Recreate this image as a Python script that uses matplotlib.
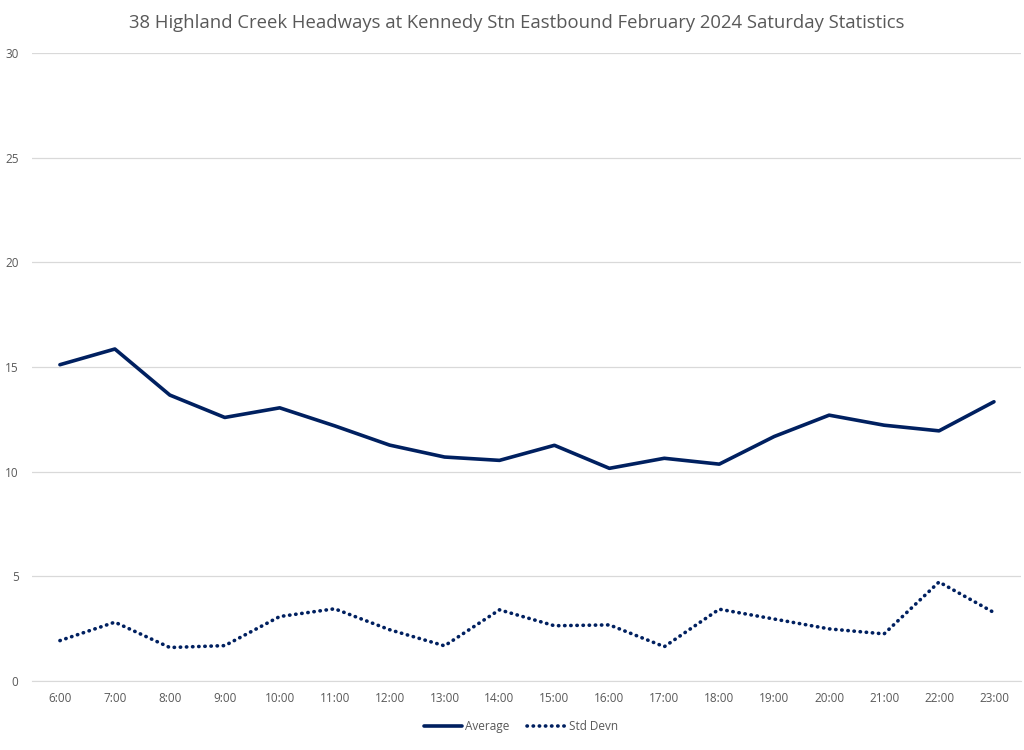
import matplotlib as mpl
mpl.use('Agg')
import matplotlib.pyplot as plt

hours = ["6:00", "7:00", "8:00", "9:00", "10:00", "11:00", "12:00", "13:00", "14:00",
         "15:00", "16:00", "17:00", "18:00", "19:00", "20:00", "21:00", "22:00", "23:00"]
average = [15.11, 15.86, 13.66, 12.59, 13.05, 12.19, 11.27, 10.70, 10.54,
           11.26, 10.16, 10.64, 10.36, 11.68, 12.70, 12.22, 11.95, 13.34]
std_devn = [1.93, 2.81, 1.60, 1.69, 3.08, 3.45, 2.45, 1.68, 3.40,
            2.64, 2.68, 1.64, 3.43, 2.96, 2.49, 2.25, 4.73, 3.27]

plt.rcParams['font.family'] = ['Open Sans', 'DejaVu Sans']
grey = "#595959"
navy = "#002060"

fig = plt.figure(figsize=(10.24, 7.5), dpi=100)
ax = fig.add_axes([0.0317, 0.092, 0.9658, 0.8373])

x = range(len(hours))
ax.plot(x, average, color=navy, lw=2.6, solid_capstyle='round', label="Average", zorder=3)
ax.plot(x, std_devn, color=navy, lw=2.6, linestyle=(0, (0.1, 1.6)), dash_capstyle='round',
        label="Std Devn", zorder=3)

ax.set_xlim(-0.5, len(hours) - 0.5)
ax.set_ylim(0, 30)
ax.set_yticks(range(0, 31, 5))
ax.set_xticks(list(x))
ax.set_xticklabels(hours)
ax.grid(axis='y', color="#d9d9d9", lw=0.9, zorder=0)
ax.set_axisbelow(True)
for s in ax.spines.values():
    s.set_visible(False)
ax.spines['bottom'].set_visible(True)
ax.spines['bottom'].set_color("#d9d9d9")
ax.tick_params(axis='both', length=0, labelsize=8.5, labelcolor=grey)
ax.tick_params(axis='x', pad=8)
ax.tick_params(axis='y', pad=10)

fig.text(0.505, 0.970, "38 Highland Creek Headways at Kennedy Stn Eastbound February 2024 Saturday Statistics",
         ha='center', va='center', fontsize=13.3, color=grey)

ax.legend(loc='center', bbox_to_anchor=(0.494, -0.072), ncol=2, frameon=False,
          fontsize=8.5, labelcolor=grey, handlelength=3.2, handletextpad=0.3, columnspacing=1.5)

fig.savefig("out.png", dpi=100)
